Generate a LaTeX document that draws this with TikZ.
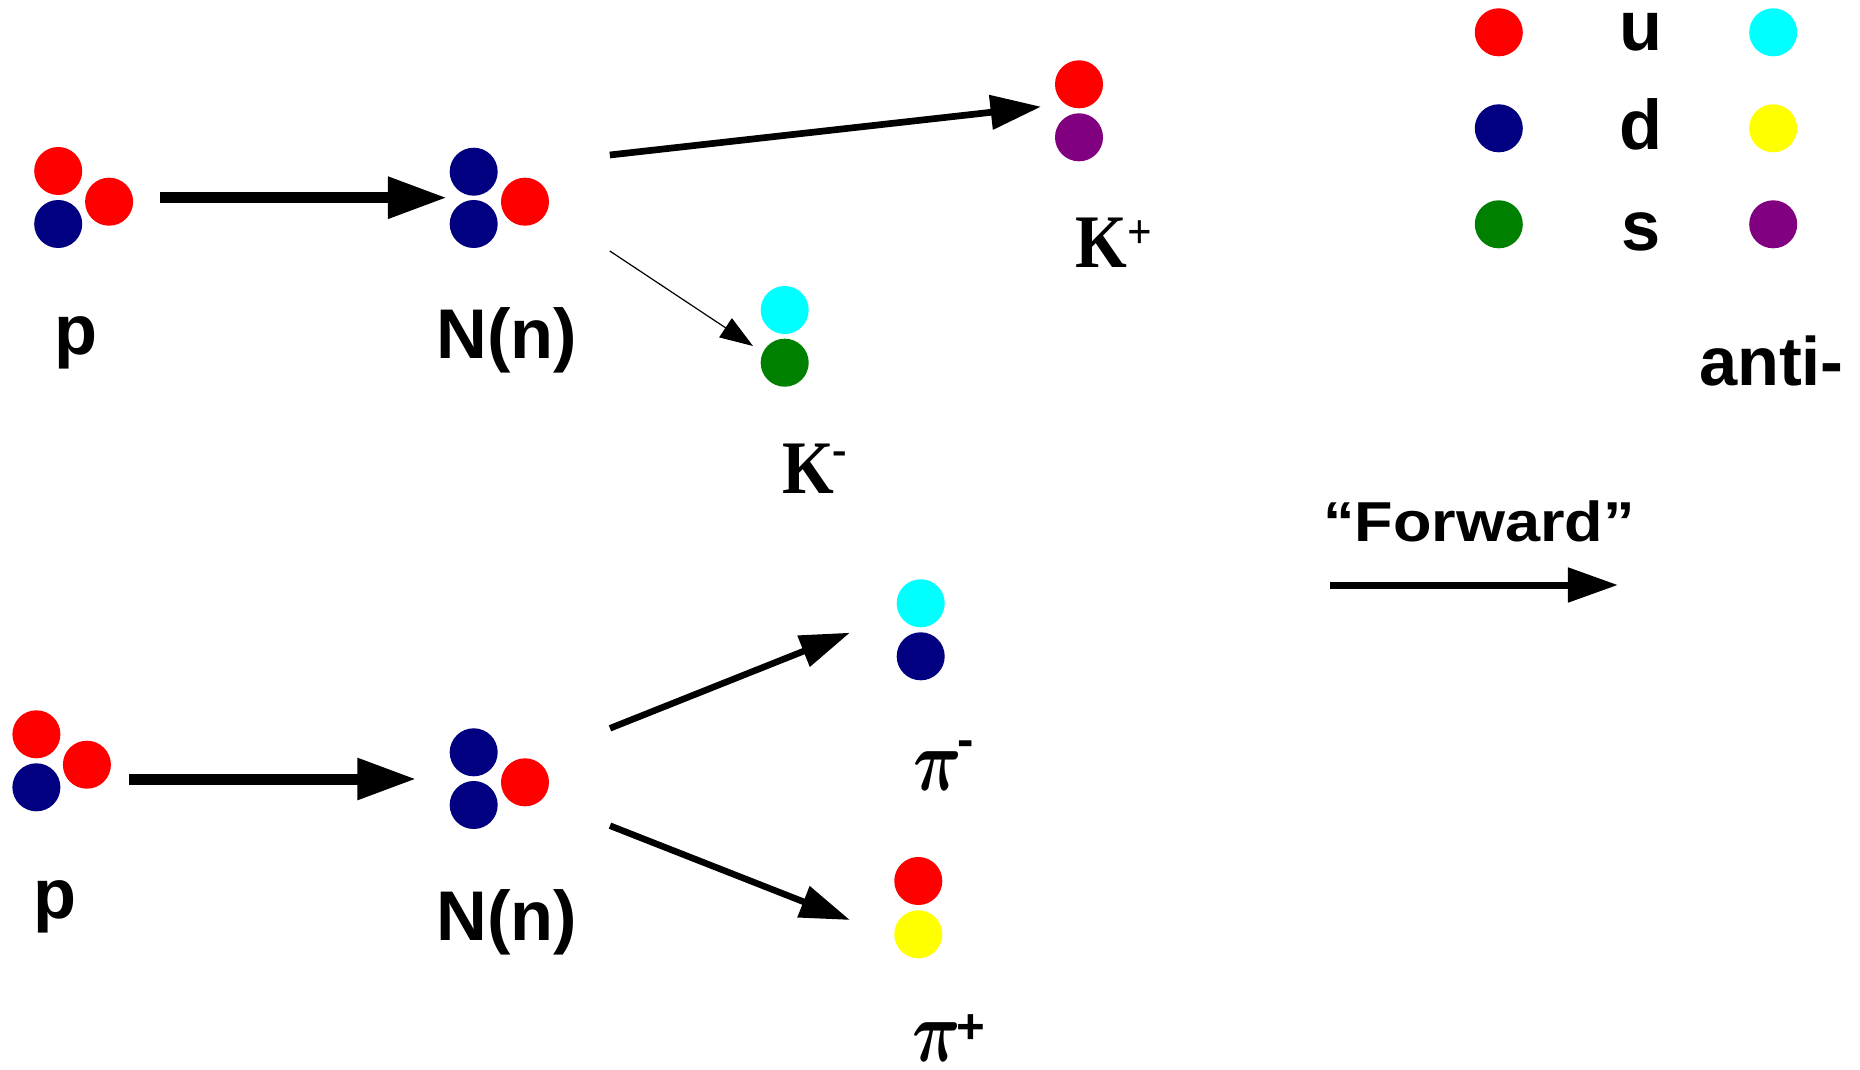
\documentclass[tikz,border=0pt]{standalone}
\usepackage{amsmath}
\usepackage{graphicx}
\usepackage{fontspec}
\setmainfont{Liberation Sans}
\newfontfamily\kfont{Liberation Serif}[FakeStretch=0.88]
\newfontfamily\fwdfont{Liberation Sans}[FakeStretch=1.12]
\usetikzlibrary{arrows.meta}

\definecolor{qred}{HTML}{FF0000}
\definecolor{qnavy}{HTML}{000080}
\definecolor{qgreen}{HTML}{008000}
\definecolor{qcyan}{HTML}{00FFFF}
\definecolor{qyellow}{HTML}{FFFF00}
\definecolor{qpurple}{HTML}{800080}

% raised charge sign after a particle symbol: #1 kern, #2 raise, #3 sign
\newcommand{\chargeup}[3]{\kern#1\raisebox{#2}{\fontsize{14}{14}\selectfont\bfseries #3}}
% bold pi, narrowed, in a box as wide as its ink
\newcommand{\pisym}{\makebox[0.44cm][l]{\scalebox{0.77}[1]{$\boldsymbol{\pi}$}}}

\tikzset{
  quark/.style={circle, draw=none, inner sep=0pt, minimum size=0.48cm},
  lbl/.style={inner sep=0pt, anchor=base, font=\bfseries\fontsize{20}{24}\selectfont},
  klbl/.style={inner sep=0pt, anchor=base west, font=\kfont\bfseries\fontsize{21.5}{24}\selectfont},
  pilbl/.style={inner sep=0pt, anchor=base west, font=\fontsize{24}{28}\selectfont},
  bigarrow/.style={line width=0.11cm, -{Triangle[length=0.59cm, width=0.393cm]}},
  midarrow/.style={line width=0.067cm, -{Triangle[length=0.505cm, width=0.334cm]}},
  pionarrow/.style={line width=0.065cm, -{Triangle[length=0.50cm, width=0.32cm]}},
  thinarrow/.style={line width=0.012cm, -{Triangle[length=0.33cm, width=0.228cm]}},
  fwdarrow/.style={line width=0.07cm, -{Triangle[length=0.50cm, width=0.334cm]}},
}

\begin{document}
\begin{tikzpicture}[x=0.01cm, y=-0.01cm]
\useasboundingbox (0,0) rectangle (1860,1070);

% ---- upper reaction: p -> N(n) -> K+ K- ----
\node[quark, fill=qred]  (p1a) at (58.2,171) {};
\node[quark, fill=qnavy] (p1b) at (58.2,224) {};
\node[quark, fill=qred]  (p1c) at (109.1,201.7) {};
\node[lbl] (p1lbl) at (76,354) {p};

\node[quark, fill=qnavy] (n1a) at (473.7,171.7) {};
\node[quark, fill=qnavy] (n1b) at (473.7,224) {};
\node[quark, fill=qred]  (n1c) at (525,201.7) {};
\node[lbl] (n1lbl) at (506.6,359) {N(n)};

\node[quark, fill=qred]    (kpa) at (1079,84.3) {};
\node[quark, fill=qpurple] (kpb) at (1079,137.3) {};
\node[klbl] (kplbl) at (1075,268) {K\chargeup{0cm}{0.195cm}{+}};

\node[quark, fill=qcyan]  (kma) at (784.7,310) {};
\node[quark, fill=qgreen] (kmb) at (784.7,362.7) {};
\node[klbl] (kmlbl) at (781.5,493) {K\chargeup{-0.01cm}{0.272cm}{-}};

\coordinate (a1s) at (159.6,197.7);
\coordinate (a1e) at (447,197.7);
\coordinate (a2s) at (609.8,155);
\coordinate (a2e) at (1041.1,106.7);
\coordinate (a3s) at (609.8,251);
\coordinate (a3e) at (753,346);
\draw[bigarrow]  (a1s) -- (a1e);
\draw[midarrow]  (a2s) -- (a2e);
\draw[thinarrow] (a3s) -- (a3e);

% ---- lower reaction: p -> N(n) -> pi- pi+ ----
\node[quark, fill=qred]  (p2a) at (36.4,734.3) {};
\node[quark, fill=qnavy] (p2b) at (36.4,787.3) {};
\node[quark, fill=qred]  (p2c) at (86.9,764.7) {};
\node[lbl] (p2lbl) at (54.5,918) {p};

\node[quark, fill=qnavy] (n2a) at (473.7,752.3) {};
\node[quark, fill=qnavy] (n2b) at (473.7,805) {};
\node[quark, fill=qred]  (n2c) at (525,782.3) {};
\node[lbl] (n2lbl) at (506.6,940) {N(n)};

\node[quark, fill=qcyan] (pima) at (920.7,603.3) {};
\node[quark, fill=qnavy] (pimb) at (920.7,656.3) {};
\node[pilbl] (pimlbl) at (913,790) {\pisym\chargeup{0cm}{0.332cm}{-}};

\node[quark, fill=qred]    (pipa) at (918.3,881) {};
\node[quark, fill=qyellow] (pipb) at (918.3,934.3) {};
\node[pilbl] (piplbl) at (912,1061) {\pisym\chargeup{0cm}{0.175cm}{+}};

\coordinate (b1s) at (129,779);
\coordinate (b1e) at (416.3,779);
\coordinate (b2s) at (610,728.3);
\coordinate (b2e) at (850,632.7);
\coordinate (b3s) at (610,825.7);
\coordinate (b3e) at (850,920);
\draw[bigarrow]  (b1s) -- (b1e);
\draw[pionarrow] (b2s) -- (b2e);
\draw[pionarrow] (b3s) -- (b3e);

% ---- quark legend ----
\node[quark, fill=qred]    (lu)  at (1498.8,32.3) {};
\node[quark, fill=qnavy]   (ld)  at (1498.8,128.3) {};
\node[quark, fill=qgreen]  (ls)  at (1498.8,224.3) {};
\node[quark, fill=qcyan]   (lau) at (1773.2,32.3) {};
\node[quark, fill=qyellow] (lad) at (1773.2,128.3) {};
\node[quark, fill=qpurple] (las) at (1773.2,224.3) {};
\node[lbl] (tu) at (1641,50.7) {u};
\node[lbl] (td) at (1641,150) {d};
\node[lbl] (ts) at (1641,250.7) {s};
\node[lbl, font=\bfseries\fontsize{19.5}{24}\selectfont] (tanti) at (1771.4,385) {anti-};

% ---- forward direction ----
\node[inner sep=0pt, anchor=base, font=\fwdfont\bfseries\fontsize{16}{19}\selectfont] (fwd) at (1479,541.7) {“Forward”};
\coordinate (fs) at (1330,585);
\coordinate (fe) at (1618,585);
\draw[fwdarrow] (fs) -- (fe);
\end{tikzpicture}
\end{document}
